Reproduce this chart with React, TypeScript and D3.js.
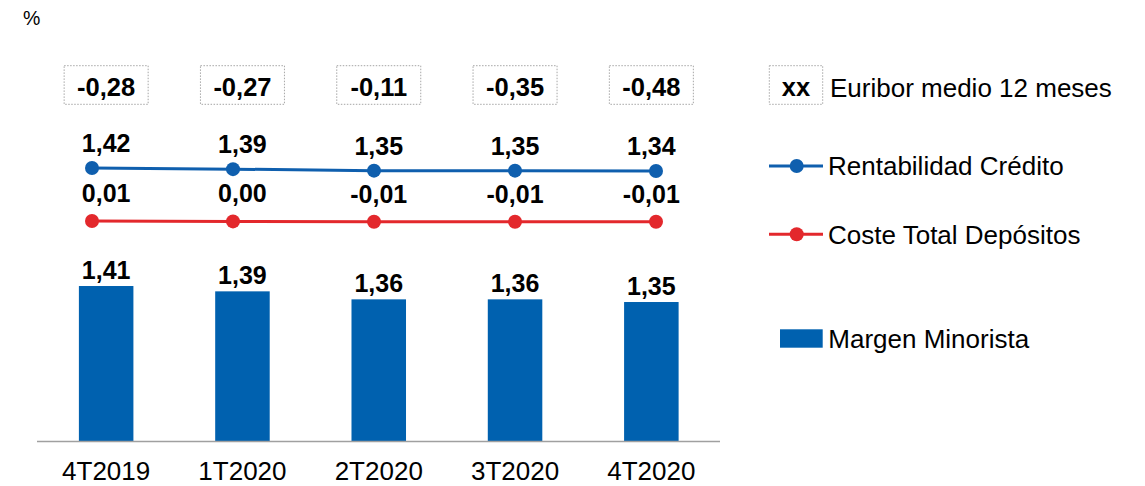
import React from "react";
import * as d3 from "d3";

const categories = ["4T2019", "1T2020", "2T2020", "3T2020", "4T2020"];
const margenMinorista = [1.41, 1.39, 1.36, 1.36, 1.35];
const rentabilidadCredito = [1.42, 1.39, 1.35, 1.35, 1.34];
const costeDepositos = [0.01, 0.0, -0.01, -0.01, -0.01];
const euribor = [-0.28, -0.27, -0.11, -0.35, -0.48];

const BAR = "#0061AF";
const BLUE = "#0F5FAE";
const RED = "#E3282C";
const FONT = "'Liberation Sans', Arial, Helvetica, sans-serif";

const fmt = (v: number) => v.toFixed(2).replace(".", ",").replace(/^-0,00$/, "0,00");

function T({ x, y, children, size = 26, bold = false, anchor = "middle" }: any) {
  return (
    <text
      x={x}
      y={y}
      textAnchor={anchor}
      fontFamily={FONT}
      fontSize={size}
      fontWeight={bold ? "bold" : "normal"}
      fill="#000"
    >
      {children}
    </text>
  );
}

export default function App() {
  const W = 1145, H = 486;
  const axisY = 441.5;
  const x = d3.scaleBand<string>().domain(categories).range([38, 719.5]).paddingInner(0.6).paddingOuter(0.3);
  const yBar = d3.scaleLinear().domain([0.827, 1.45]).range([axisY, axisY - 0.623 * 266.7]);
  const xLine = d3.scalePoint<string>().domain(categories).range([92, 656]);
  const yLine = d3.scaleLinear().domain([0, 1.5]).range([221.4, 221.4 - 1.5 * 37.6]);

  const lineGen = d3.line<number>().x((_, i) => xLine(categories[i])!).y((d) => yLine(d));

  const cx = (c: string) => x(c)! + x.bandwidth() / 2;

  return (
    <svg width={W} height={H} style={{ position: "absolute", left: 0, top: 0, background: "#fff" }}>
      <rect x={0} y={0} width={W} height={H} fill="#fff" />
      <T x={23} y={25} size={19.5} anchor="start">%</T>

      {/* Euribor boxes */}
      {categories.map((c, i) => (
        <g key={"e" + c}>
          <rect x={cx(c) - 42} y={65.7} width={84} height={38.6} fill="none" stroke="#A6A6A6" strokeWidth={1} strokeDasharray="1.5,1.5" />
          <T x={cx(c)} y={96} bold size={25.5}>{fmt(euribor[i])}</T>
        </g>
      ))}

      {/* Bars */}
      {categories.map((c, i) => (
        <g key={"b" + c}>
          <rect x={x(c)} y={yBar(margenMinorista[i])} width={x.bandwidth()} height={axisY - yBar(margenMinorista[i])} fill={BAR} />
          <T x={cx(c)} y={yBar(margenMinorista[i]) - 7} bold size={25}>{fmt(margenMinorista[i])}</T>
        </g>
      ))}
      <line x1={37} x2={720} y1={axisY} y2={axisY} stroke="#A0A0A0" strokeWidth={1.5} />

      {/* Category labels */}
      {categories.map((c) => (
        <T key={"c" + c} x={cx(c)} y={480}>{c}</T>
      ))}

      {/* Lines */}
      <path d={lineGen(rentabilidadCredito)!} fill="none" stroke={BLUE} strokeWidth={3} />
      <path d={lineGen(costeDepositos)!} fill="none" stroke={RED} strokeWidth={3} />
      {categories.map((c, i) => (
        <g key={"l" + c}>
          <circle cx={xLine(c)} cy={yLine(rentabilidadCredito[i])} r={7} fill={BLUE} />
          <circle cx={xLine(c)} cy={yLine(costeDepositos[i])} r={7} fill={RED} />
          <T x={cx(c)} y={yLine(rentabilidadCredito[i]) - 16} bold size={25}>{fmt(rentabilidadCredito[i])}</T>
          <T x={cx(c)} y={yLine(costeDepositos[i]) - 19} bold size={25}>{fmt(costeDepositos[i])}</T>
        </g>
      ))}

      {/* Legend */}
      <rect x={769.3} y={65.7} width={53.4} height={38.6} fill="none" stroke="#A6A6A6" strokeWidth={1} strokeDasharray="1.5,1.5" />
      <T x={796} y={96} bold size={25.5}>xx</T>
      <T x={830} y={96.5} anchor="start">Euribor medio 12 meses</T>

      <line x1={769} x2={823} y1={166} y2={166} stroke={BLUE} strokeWidth={3} />
      <circle cx={796.7} cy={166} r={7} fill={BLUE} />
      <T x={828} y={174.5} anchor="start">Rentabilidad Crédito</T>

      <line x1={769} x2={823} y1={234.3} y2={234.3} stroke={RED} strokeWidth={3} />
      <circle cx={796.7} cy={234.3} r={7} fill={RED} />
      <T x={828} y={244} anchor="start">Coste Total Depósitos</T>

      <rect x={780} y={329.3} width={42.7} height={18.4} fill={BAR} />
      <T x={828.3} y={347.5} anchor="start">Margen Minorista</T>
    </svg>
  );
}
